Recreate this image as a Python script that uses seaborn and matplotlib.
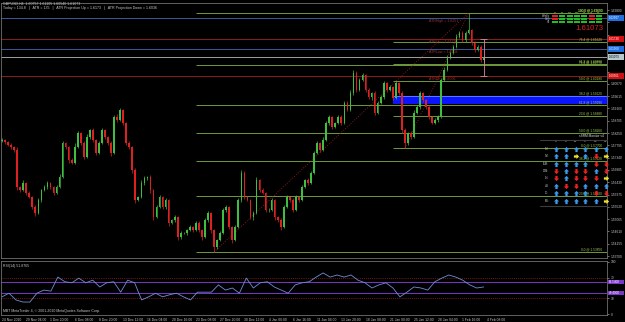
import numpy as np
import pandas as pd
import matplotlib
matplotlib.use("Agg")
import matplotlib.pyplot as plt
from matplotlib.patches import Rectangle
from matplotlib.path import Path
import seaborn as sns

# ---------------- data ----------------
first_open = 1.5796
closes = [1.5799, 1.5792, 1.5781, 1.5773, 1.5762, 1.5625, 1.5614, 1.5640, 1.5603, 1.5588,
          1.5551, 1.5529, 1.5577, 1.5614, 1.5625, 1.5640, 1.5625, 1.5603, 1.5625, 1.5662,
          1.5788, 1.5773, 1.5725, 1.5714, 1.5773, 1.5825, 1.5788, 1.5736, 1.5810, 1.5836,
          1.5799, 1.5751, 1.5788, 1.5836, 1.5810, 1.5788, 1.5751, 1.5884, 1.5873, 1.5910,
          1.5862, 1.5788, 1.5773, 1.5688, 1.5577, 1.5588, 1.5640, 1.5659, 1.5662, 1.5614,
          1.5514, 1.5551, 1.5588, 1.5551, 1.5577, 1.5492, 1.5503, 1.5514, 1.5440, 1.5455,
          1.5455, 1.5466, 1.5477, 1.5466, 1.5492, 1.5466, 1.5440, 1.5503, 1.5529, 1.5466,
          1.5403, 1.5429, 1.5455, 1.5540, 1.5551, 1.5477, 1.5429, 1.5477, 1.5577, 1.5677,
          1.5588, 1.5577, 1.5514, 1.5529, 1.5651, 1.5614, 1.5603, 1.5540, 1.5540, 1.5577,
          1.5514, 1.5503, 1.5477, 1.5551, 1.5588, 1.5577, 1.5540, 1.5588, 1.5577, 1.5625,
          1.5651, 1.5640, 1.5677, 1.5751, 1.5788, 1.5762, 1.5799, 1.5862, 1.5884, 1.5847,
          1.5862, 1.5884, 1.5862, 1.5936, 1.5910, 1.5973, 1.6047, 1.5984, 1.6021, 1.6040,
          1.5984, 1.5958, 1.5973, 1.5899, 1.5936, 1.5958, 1.6010, 1.5984, 1.5995, 1.5955,
          1.6010, 1.5973, 1.5836, 1.5788, 1.5825, 1.5810, 1.5899, 1.5921, 1.5973, 1.5947,
          1.5921, 1.5884, 1.5862, 1.5873, 1.5884, 1.6021, 1.6058, 1.6106, 1.6121, 1.6143,
          1.6180, 1.6195, 1.6169, 1.6195, 1.6206, 1.6158, 1.6132, 1.6143, 1.6095, 1.6107]
wick_up_pips = [6, 4, 5, 8, 3, 10, 5, 12, 4, 6, 5, 8, 9, 4, 6, 7, 5, 3, 6, 12,
                8, 5, 4, 9, 14, 6, 4, 7, 10, 5, 6, 4, 8, 7, 5, 3, 6, 9, 10, 7,
                5, 3, 6, 4, 8, 5, 10, 7, 4, 6, 5, 9, 6, 4, 8, 3, 5, 6, 4, 7,
                5, 3, 6, 4, 7, 9, 5, 8, 6, 3, 4, 5, 7, 6, 8, 5, 4, 7, 9, 12,
                6, 5, 4, 7, 10, 5, 6, 4, 8, 6, 5, 4, 7, 9, 6, 5, 8, 7, 4, 6,
                5, 8, 6, 9, 7, 5, 10, 8, 6, 5, 4, 9, 6, 7, 8, 12, 11, 6, 9, 7,
                5, 8, 4, 6, 9, 7, 8, 5, 6, 4, 9, 5, 6, 8, 5, 7, 10, 6, 8, 5,
                4, 6, 5, 7, 8, 9, 12, 7, 6, 8, 10, 9, 7, 6, 63, 5, 8, 9, 6, 4]
wick_dn_pips = [5, 7, 4, 6, 8, 12, 6, 4, 9, 5, 8, 10, 4, 7, 5, 6, 8, 9, 4, 5,
                4, 6, 9, 5, 4, 5, 8, 6, 4, 6, 7, 9, 5, 4, 6, 8, 10, 4, 6, 5,
                7, 9, 6, 12, 10, 5, 4, 6, 7, 9, 12, 5, 4, 8, 6, 10, 5, 6, 11, 6,
                5, 7, 4, 6, 5, 8, 10, 4, 6, 9, 18, 6, 5, 4, 6, 8, 11, 5, 4, 6,
                8, 5, 7, 9, 4, 6, 5, 8, 7, 4, 9, 6, 10, 5, 4, 6, 7, 5, 6, 4,
                5, 6, 4, 3, 5, 8, 4, 5, 6, 7, 4, 5, 6, 4, 5, 3, 6, 8, 5, 4,
                7, 6, 9, 8, 5, 4, 6, 7, 5, 8, 5, 7, 12, 18, 6, 7, 4, 5, 6, 8,
                6, 7, 5, 4, 6, 4, 3, 5, 6, 4, 3, 5, 8, 6, 4, 7, 6, 5, 8, 6]
rsi_values = [33, 40, 27, 23, 23, 40, 46, 44, 71, 62, 60, 69, 60, 65, 52, 60, 62, 42, 65, 60,
              27, 33, 40, 33, 37, 40, 33, 27, 42, 42, 42, 56, 46, 50, 40, 69, 50, 60, 62, 52,
              46, 40, 56, 60, 62, 71, 79, 71, 75, 71, 75, 65, 60, 50, 56, 60, 50, 33, 42, 52,
              50, 46, 62, 69, 75, 71, 65, 56, 50, 52]
date_labels = ["24 Nov 2010", "29 Nov 04:00", "1 Dec 20:00", "6 Dec 08:00", "8 Dec 20:00",
               "13 Dec 12:00", "16 Dec 04:00", "20 Dec 16:00", "23 Dec 08:00", "27 Dec 20:00",
               "30 Dec 12:00", "4 Jan 00:00", "6 Jan 16:00", "11 Jan 04:00", "13 Jan 20:00",
               "18 Jan 08:00", "21 Jan 00:00", "25 Jan 12:00", "28 Jan 04:00", "1 Feb 16:00",
               "4 Feb 08:00"]
price_ticks = [1.53700, 1.54155, 1.54610, 1.55065, 1.55520, 1.55975, 1.56430, 1.56885,
               1.57340, 1.57795, 1.58250, 1.58705, 1.59160, 1.59615, 1.60070, 1.60525,
               1.60980, 1.61435, 1.61890, 1.62345, 1.62800]
rsi_ticks = [0, 30, 70, 100]

fib1_pct = [0.0, 23.6, 38.2, 50.0, 61.8, 76.4, 100.0]
fib1_price = [1.5385, 1.5592, 1.5722, 1.5826, 1.5929, 1.6077, 1.6269]
fib1_start = 64
fib2_pct = [0.0, 23.6, 38.2, 50.0, 61.8, 76.4, 100.0]
fib2_price = [1.5770, 1.5888, 1.5962, 1.6018, 1.6080, 1.6162, 1.6269]
fib2_start = 129
zone_low, zone_high = 1.5933, 1.5962

level_prices = [1.62507, 1.61730, 1.61360, 1.61073, 1.60361]
level_line_colors = ["#3b5a9c", "#8e1c1c", "#3b5a9c", "#a0a0a0", "#8e1c1c"]
level_tag_colors = ["#1f6fe0", "#d01010", "#1f6fe0", "#b8c8cc", "#d01010"]
current_price = 1.61073
atr_up, atr_dn = 1.6173, 1.6036

trend_lines = [((70, 1.5385), (154, 1.6269)), ((133, 1.5770), (154, 1.6269))]

rsi_levels = [70, 30]
rsi_user_levels = [61.5, 40.4]
rsi_user_tags = ["61.5400", "40.4000"]

meter_rows = ["Weekly", "Daily", "H4"]
meter_cols = ["M1", "M5", "M15", "M30", "H1", "H4", "D1"]
meter_colors = [["R", "G", "G", "G", "G", "R", "G"],
                ["R", "G", "G", "G", "G", "R", "G"],
                ["G", "G", "G", "G", "G", "G", "G"]]

mon_cols = ["PA", "PA", "TR", "CI", "CR", "CC"]
mon_rows = ["1M", "5M", "15M", "30M", "1H", "4H", "1D", "1W"]
mon_arrows = ["BBBBBB", "BBYBRY", "BBBBRR", "RBRRBR", "RBRRRY", "BRRBBB", "BBBBRR", "BBBBBY"]

# ---------------- style ----------------
sns.set_theme(style="dark")
plt.rcParams["font.family"] = ["Liberation Sans", "DejaVu Sans"]
W, H = 625, 322
fig = plt.figure(figsize=(W / 100, H / 100), dpi=100, facecolor="black")


def fx(px):
    return px / W


def fy(py):
    return 1 - py / H


def price_to_py(p):
    return (1.63173 - p) / 0.00037


def rsi_to_py(v):
    return 314 - 0.52 * v


TXT = "#c8c8c8"
ax = fig.add_axes([fx(1), fy(258), 606 / W, 255 / H], facecolor="black")
rx = fig.add_axes([fx(1), fy(315), 606 / W, 54 / H], facecolor="black")
for a in (ax, rx):
    a.grid(False)
    for s in a.spines.values():
        s.set_color("#707070")
        s.set_linewidth(0.6)
    a.set_xlim(-0.33, 199.7)

ax.set_ylim(1.53627, 1.63062)
rx.set_ylim(-1.9, 101.9)

# overlay in pixel coordinates for indicator widgets
ov = fig.add_axes([0, 0, 1, 1], facecolor="none", zorder=10)
ov.set_xlim(0, W)
ov.set_ylim(H, 0)
ov.axis("off")

# ---------------- candles ----------------
df = pd.DataFrame({"close": closes})
df["open"] = [first_open] + closes[:-1]
df["high"] = np.maximum(df["open"], df["close"]) + np.array(wick_up_pips) / 1e4
df["low"] = np.minimum(df["open"], df["close"]) - np.array(wick_dn_pips) / 1e4
df["idx"] = np.arange(len(df))
bull = df["close"] >= df["open"]
for mask, col in ((bull, "#3fbf3f"), (~bull, "#dd2020")):
    d = df[mask]
    ax.vlines(d["idx"], d["low"], d["high"], color=col, lw=0.5, zorder=4)
    body = np.maximum((d["close"] - d["open"]).abs(), 0.00008)
    ax.bar(d["idx"], body, bottom=np.minimum(d["open"], d["close"]), width=0.55,
           color=col, linewidth=0, zorder=5)

# ---------------- horizontal levels ----------------
for p, c in zip(level_prices, level_line_colors):
    ax.axhline(p, color=c, lw=0.7, zorder=2)

fib_col = "#6f9a3a"
for start, pcts, prices in ((fib1_start, fib1_pct, fib1_price), (fib2_start, fib2_pct, fib2_price)):
    for pct, pr in zip(pcts, prices):
        ax.hlines(pr, start, 199.7, color=fib_col, lw=0.7, zorder=2)
        ax.text(0.992, pr + 0.0001, f"{pct:.1f} @ {pr:.5f}", transform=ax.get_yaxis_transform(),
                ha="right", va="bottom", fontsize=2.3, color="#9fcf4f", zorder=8)

ax.fill_between([fib2_start, 199.7], zone_low, zone_high, color="#0a14ff", lw=0, zorder=3)
ax.hlines(zone_high, fib2_start, 199.7, color="#6a8cff", lw=0.6, zorder=3)

for (x0, y0), (x1, y1) in trend_lines:
    ax.plot([x0, x1], [y0, y1], color="#b02020", lw=0.6, ls=(0, (1, 2)), zorder=3)

# ATR projection marker
last = df["idx"].iloc[-1]
ax.vlines(last, atr_dn, atr_up, color="#d88aa8", lw=0.6, zorder=6)
ax.hlines([atr_dn, atr_up], last - 1.2, last + 1.2, color="#d88aa8", lw=0.6, zorder=6)

# chart object labels
obj_labels = [("ATRHigh = 1.6251", level_prices[0]), ("ATRUp = 1.6173", level_prices[1]),
              ("ATRLow = 1.6136", level_prices[2]), ("ATRDn = 1.6036", level_prices[4])]
for t, pr in obj_labels:
    ax.text(141, pr - 0.0010, t, fontsize=2.6, color="#a03030", va="center", ha="left", zorder=7)

# ---------------- axes ticks ----------------
tag_pys = [price_to_py(p) for p in level_prices]
ax.yaxis.tick_right()
ax.set_yticks(price_ticks)
ax.set_yticklabels(["" if min(abs(price_to_py(v) - t) for t in tag_pys) < 4.5 else f"{v:.5f}"
                    for v in price_ticks])
ax.tick_params(axis="y", labelsize=2.3, colors=TXT, length=1.5, width=0.4, pad=1)
ax.set_xticks([])

rx.yaxis.tick_right()
rx.set_yticks(rsi_ticks)
rx.set_yticklabels([str(v) for v in rsi_ticks])
rx.tick_params(axis="y", labelsize=2.3, colors=TXT, length=1.5, width=0.4, pad=1)
tick_pos = [8 * k for k in range(len(date_labels))]
rx.set_xticks(tick_pos)
rx.set_xticklabels(date_labels, ha="left")
rx.tick_params(axis="x", labelsize=2.4, colors=TXT, length=1.5, width=0.4, pad=1)

# ---------------- RSI ----------------
rsi_df = pd.DataFrame({"x": np.linspace(0, len(closes) - 1, len(rsi_values)), "rsi": rsi_values})
sns.lineplot(data=rsi_df, x="x", y="rsi", ax=rx, color="#6d8fd8", lw=0.6, zorder=5)
for lv in rsi_levels:
    rx.axhline(lv, color="#a02020", lw=0.6, ls=(0, (1, 1.5)), zorder=2)
for lv in rsi_user_levels:
    rx.axhline(lv, color="#7a36c8", lw=0.7, zorder=2)
rx.set_xlabel("")
rx.set_ylabel("")
rx.set_xlim(-0.33, 199.7)
rx.text(0.004, 0.95, "RSI(14) 51.8765", transform=rx.transAxes, fontsize=2.5, color=TXT, va="top")
rx.text(0.004, 0.04, "MBT MetaTrader 4, \u00a9 2001-2010 MetaQuotes Software Corp.",
        transform=rx.transAxes, fontsize=2.5, color=TXT, va="bottom")


# ---------------- price tags (right axis) ----------------
def tag(py, color, text, tcolor="white", h=6):
    ov.add_patch(Rectangle((608, py - h / 2), 16, h, facecolor=color, edgecolor="none", zorder=20,
                           clip_on=False))
    ov.text(609, py, text, fontsize=2.2, color=tcolor, va="center", ha="left", zorder=21)


for p, c in zip(level_prices, level_tag_colors):
    tag(price_to_py(p), c, f"{p:.5f}", "black" if c == "#b8c8cc" else "white")
for lv, t in zip(rsi_user_levels, rsi_user_tags):
    tag(rsi_to_py(lv), "#7a36c8", t, h=4.5)

# ---------------- header ----------------
ov.text(3, 3.5, "GBPUSD,H4  1.60757 1.61105 1.60540 1.61073", fontsize=2.6, color=TXT, va="center")
ov.text(3, 7.5, "Today = 134.8   |   ATR = 135   |   ATR Projection Up = 1.6173   |   ATR Projection Down = 1.6036",
        fontsize=2.6, color=TXT, va="center")

# ---------------- strength meter ----------------
cmap = {"R": "#e02020", "G": "#20c020"}
for r, (rname, row) in enumerate(zip(meter_rows, meter_colors)):
    yy = 15 + 2.8 * r
    ov.text(550, yy + 1.1, rname, fontsize=1.8, color=TXT, ha="right", va="center")
    for c, code in enumerate(row):
        ov.add_patch(Rectangle((552 + 7.3 * c, yy), 6, 2.3, facecolor=cmap[code], edgecolor="none"))
for c, cname in enumerate(meter_cols):
    ov.text(555 + 7.3 * c, 12.5, cname, fontsize=1.6, color=TXT, ha="center", va="center")
ov.text(603, 28.5, f"{current_price:.5f}", fontsize=5.6, color="#e02020", ha="right", va="center")

# ---------------- monitor table ----------------
up_arrow = Path([(-0.22, -0.5), (0.22, -0.5), (0.22, 0.0), (0.5, 0.0), (0.0, 0.5), (-0.5, 0.0),
                 (-0.22, 0.0), (-0.22, -0.5)],
                [Path.MOVETO] + [Path.LINETO] * 6 + [Path.CLOSEPOLY])
down_arrow = up_arrow.transformed(matplotlib.transforms.Affine2D().rotate_deg(180))
right_arrow = up_arrow.transformed(matplotlib.transforms.Affine2D().rotate_deg(-90))
acol = {"B": ("#3a9af0", up_arrow), "R": ("#f02020", down_arrow), "Y": ("#f0e030", right_arrow)}

ov.text(604, 136, "sSRM Monitor v4", fontsize=2.3, color="#e0e0e0", ha="right", va="center")
for yy in (139.5, 206):
    ov.plot([540, 607], [yy, yy], color="#3c3c3c", lw=0.8)
mon_x = [556, 566, 575.5, 585, 595.5, 606]
mon_y = [149, 156, 164, 171, 178, 186, 193, 201]
for cx, cn in zip(mon_x, mon_cols):
    ov.text(cx, 141.6, cn, fontsize=1.7, color=TXT, ha="center", va="center")
for ry, rn, codes in zip(mon_y, mon_rows, mon_arrows):
    ov.text(549, ry, rn + ":", fontsize=1.9, color=TXT, ha="right", va="center")
    for cx, code in zip(mon_x, codes):
        col, mk = acol[code]
        ov.scatter([cx], [ry], marker=mk, s=14, color=col, linewidths=0, zorder=12)

fig.savefig("out.png", dpi=100, facecolor="black")
